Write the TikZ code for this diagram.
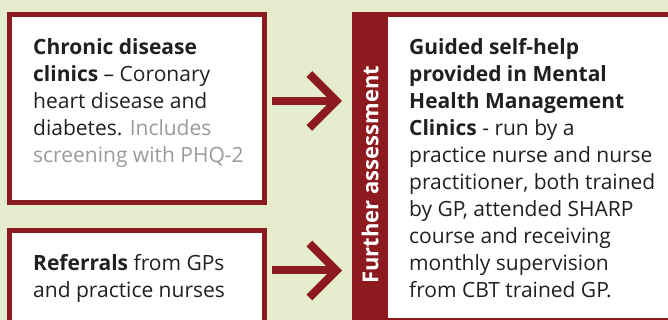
\documentclass[tikz,border=0pt]{standalone}
\usepackage{fontspec}
\setmainfont{Open Sans}
\usetikzlibrary{positioning, arrows.meta}
\definecolor{wine}{HTML}{8C1A1F}
\definecolor{sage}{HTML}{E6EDCE}
\definecolor{ink}{HTML}{231F20}
\definecolor{mute}{HTML}{9B9B9B}
\tikzset{
  framebox/.style={draw=wine, fill=white, line width=5pt, minimum width=255pt, inner sep=0pt},
  boxtext/.style={text=ink, align=left, inner sep=0pt, font=\fontsize{21}{27}\selectfont},
  flowarrow/.style={wine, line width=8pt, -{Straight Barb[length=27pt, width=54pt, line width=8pt, sharp]}, shorten <=5pt, shorten >=10pt},
}

\begin{document}
\begin{tikzpicture}[x=1pt, y=1pt]
    \clip (0,0) rectangle (668,320);
    \fill[sage] (0,0) rectangle (668,320);

    % left column
    \node (chronic) [framebox, minimum height=188pt] at (137,211.5) {};
    \node (referrals) [framebox, minimum height=97pt, below=23pt of chronic] {};
    \node (chronictext) [boxtext, below right=26pt and 26pt of chronic.north west]
        {\textbf{Chronic disease}\\ \textbf{clinics} – Coronary\\ heart disease and\\ diabetes. {\color{mute}Includes}\\ {\color{mute}screening with PHQ-2}};
    \node (referralstext) [boxtext, below right=26pt and 26pt of referrals.north west]
        {\textbf{Referrals} from GPs\\ and practice nurses};

    % right column
    \node (guided) [framebox, minimum width=316pt, minimum height=306pt] at (512.5,152.5) {};
    \node (bar) [fill=wine, minimum width=36pt, minimum height=311pt, inner sep=0pt, anchor=north west] at (352,308) {};
    \node (barlabel) [rotate=90, text=white, inner sep=0pt, font=\bfseries\fontsize{22}{27}\selectfont] at ([yshift=-7pt]bar.center) {Further assessment};
    \node (guidedtext) [boxtext, below right=26pt and 57pt of guided.north west]
        {\textbf{Guided self-help}\\ \textbf{provided in Mental}\\ \textbf{Health Management}\\ \textbf{Clinics} - run by a\\ practice nurse and nurse\\ practitioner, both trained\\ by GP, attended SHARP\\ course and receiving\\ monthly supervision\\ from CBT trained GP.};

    % connectors
    \coordinate (out1) at ([yshift=7.5pt]chronic.east);
    \coordinate (out2) at ([yshift=8.5pt]referrals.east);
    \draw[flowarrow] (out1) -- (out1 -| bar.west);
    \draw[flowarrow] (out2) -- (out2 -| bar.west);
\end{tikzpicture}
\end{document}
